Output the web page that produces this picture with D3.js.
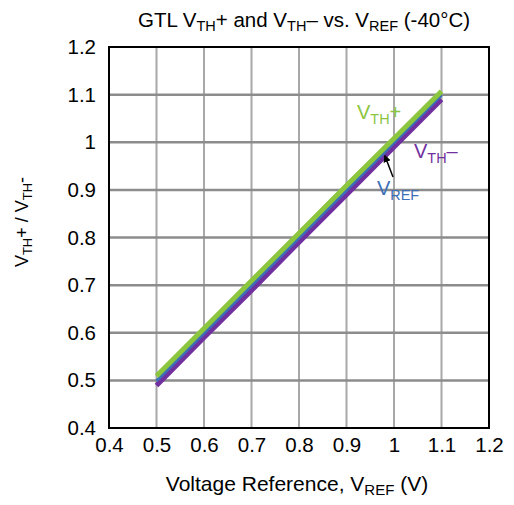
<!DOCTYPE html>
<html><head><meta charset="utf-8">
<script src="https://cdn.jsdelivr.net/npm/d3@7/dist/d3.min.js"></script>
<style>body{margin:0;background:#fff}svg{display:block;font-family:"Liberation Sans",Arial,sans-serif}</style>
</head><body><svg id="c" width="514" height="505"></svg>
<script>
const vref = [0.5, 0.6, 0.7, 0.8, 0.9, 1.0, 1.1];
const vthPlus = [0.509, 0.609, 0.709, 0.809, 0.909, 1.008, 1.107];
const vrefLine = [0.499, 0.599, 0.699, 0.799, 0.899, 0.999, 1.099];
const vthMinus = [0.489, 0.590, 0.689, 0.790, 0.890, 0.990, 1.090];
const xTicks = [0.4, 0.5, 0.6, 0.7, 0.8, 0.9, 1, 1.1, 1.2];
const yTicks = [0.4, 0.5, 0.6, 0.7, 0.8, 0.9, 1, 1.1, 1.2];

const svg = d3.select("#c");
const L = 109, R = 489, T = 47, B = 428;
const x = d3.scaleLinear().domain([0.4, 1.2]).range([L, R]);
const y = d3.scaleLinear().domain([0.4, 1.2]).range([B, T]);

// grid
const g = svg.append("g");
g.selectAll(".vx").data(xTicks.slice(1, -1)).join("line")
  .attr("x1", d => x(d)).attr("x2", d => x(d)).attr("y1", T).attr("y2", B)
  .attr("stroke", "#a8a8a8").attr("stroke-width", 2);
g.selectAll(".hy").data(yTicks.slice(1, -1)).join("line")
  .attr("y1", d => y(d)).attr("y2", d => y(d)).attr("x1", L).attr("x2", R)
  .attr("stroke", "#8c8c8c").attr("stroke-width", 2.5);

// axes
const xAxis = svg.append("g").attr("transform", `translate(0,${B})`)
  .call(d3.axisBottom(x).tickValues(xTicks).tickSize(0).tickPadding(9).tickFormat(d3.format("")));
const yAxis = svg.append("g").attr("transform", `translate(${L},0)`)
  .call(d3.axisLeft(y).tickValues(yTicks).tickSize(0).tickPadding(13).tickFormat(d3.format("")));
[xAxis, yAxis].forEach(a => {
  a.select(".domain").remove();
  a.selectAll("text").attr("font-size", 20.5).attr("fill", "#000")
    .attr("font-family", '"Liberation Sans",Arial,sans-serif');
});
svg.append("rect").attr("x", L).attr("y", T).attr("width", R - L).attr("height", B - T)
  .attr("fill", "none").attr("stroke", "#000").attr("stroke-width", 2);

// lines
const line = d3.line().x(d => x(d[0])).y(d => y(d[1]));
const series = [
  {v: vthMinus, c: "#7030a0", w: 5},
  {v: vrefLine, c: "#3b6fb6", w: 3},
  {v: vthPlus, c: "#8cc63f", w: 5}
];
series.forEach(s => {
  svg.append("path").datum(vref.map((d, i) => [d, s.v[i]]))
    .attr("d", line).attr("fill", "none").attr("stroke", s.c).attr("stroke-width", s.w);
});

// labels with subscripts
function sub(parent, px, py, main, subt, tail, color, size, anchor) {
  const t = parent.append("text").attr("x", px).attr("y", py).attr("fill", color)
    .attr("font-size", size).attr("text-anchor", anchor || "start");
  t.append("tspan").text(main);
  t.append("tspan").attr("font-size", size * 0.72).attr("dy", size * 0.25).text(subt);
  t.append("tspan").attr("dy", -size * 0.25).text(tail);
  return t;
}
sub(svg, 357, 119, "V", "TH", "+", "#8cc63f", 20);
sub(svg, 414, 158, "V", "TH", "–", "#7030a0", 20);
sub(svg, 377, 195, "V", "REF", "", "#3b6fb6", 20);
// arrow
svg.append("defs").append("marker").attr("id", "ah").attr("viewBox", "0 0 10 10")
  .attr("refX", 8).attr("refY", 5).attr("markerWidth", 5).attr("markerHeight", 5).attr("orient", "auto")
  .append("path").attr("d", "M0,0L10,5L0,10z").attr("fill", "#000");
svg.append("line").attr("x1", 393).attr("y1", 177).attr("x2", 385).attr("y2", 156)
  .attr("stroke", "#000").attr("stroke-width", 1.5).attr("marker-end", "url(#ah)");

// title
const tt = svg.append("text").attr("x", 304).attr("y", 27).attr("text-anchor", "middle").attr("font-size", 20.5).attr("fill", "#000");
tt.append("tspan").text("GTL V");
tt.append("tspan").attr("font-size", 14.5).attr("dy", 4).text("TH");
tt.append("tspan").attr("dy", -4).text("+ and V");
tt.append("tspan").attr("font-size", 14.5).attr("dy", 4).text("TH");
tt.append("tspan").attr("dy", -4).text("– vs. V");
tt.append("tspan").attr("font-size", 14.5).attr("dy", 4).text("REF");
tt.append("tspan").attr("dy", -4).text(" (-40°C)");

// x title
const xt = svg.append("text").attr("x", 297).attr("y", 491).attr("text-anchor", "middle").attr("font-size", 21).attr("fill", "#000");
xt.append("tspan").text("Voltage Reference, V");
xt.append("tspan").attr("font-size", 15).attr("dy", 4).text("REF");
xt.append("tspan").attr("dy", -4).text(" (V)");

// y title
const yt = svg.append("text").attr("transform", "translate(28,222) rotate(-90)").attr("text-anchor", "middle").attr("font-size", 18).attr("fill", "#000");
yt.append("tspan").text("V");
yt.append("tspan").attr("font-size", 13).attr("dy", 4).text("TH");
yt.append("tspan").attr("dy", -4).text("+ / V");
yt.append("tspan").attr("font-size", 13).attr("dy", 4).text("TH");
yt.append("tspan").attr("dy", -4).text("-");
</script></body></html>
